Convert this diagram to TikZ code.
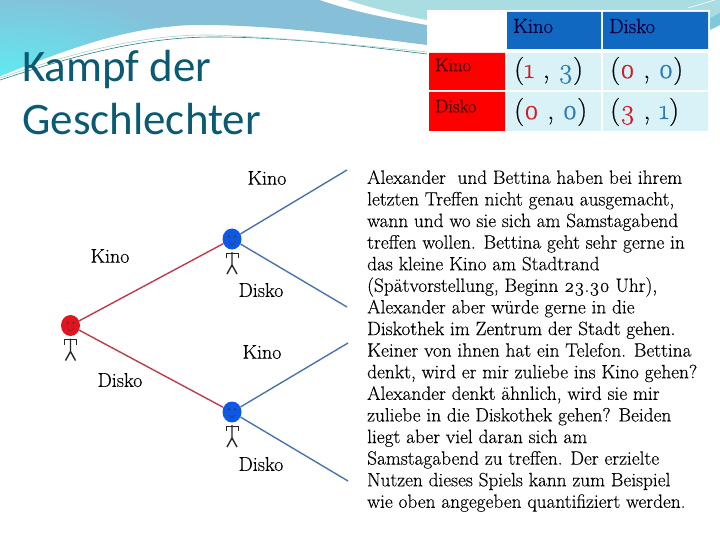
\documentclass[tikz,border=0pt]{standalone}
\usepackage{fontspec}
\setmainfont{Liberation Serif}
\newfontfamily\bodyf[Numbers=OldStyle,FakeBold=0.25]{Latin Modern Roman}
\newfontfamily\headf[Numbers=OldStyle,FakeBold=0.6]{Latin Modern Roman}
\newfontfamily\titlef{Carlito}
\usetikzlibrary{calc,shapes.geometric}
\definecolor{titleblue}{HTML}{0B5A73}
\definecolor{headblue}{HTML}{1168C0}
\definecolor{cellblue}{HTML}{D8F2F7}
\definecolor{payred}{HTML}{D01C24}
\definecolor{payblue}{HTML}{2A78B4}
\definecolor{edgered}{HTML}{B8404C}
\definecolor{edgeblue}{HTML}{4A74AC}
\definecolor{waveL}{HTML}{5CEEF4}
\definecolor{waveR}{HTML}{86BFD8}
\definecolor{waveT}{HTML}{AADDE2}
\definecolor{waveW}{HTML}{80C8DC}
\definecolor{faceR}{HTML}{E2141E}
\definecolor{faceB}{HTML}{0C58E8}
\tikzset{
  x=1pt,y=-1pt,
  treelabel/.style={font=\bodyf\fontsize{20}{20}\selectfont,text=black,inner sep=0pt},
  rowlabel/.style={font=\bodyf\fontsize{18.5}{18.5}\selectfont,text=black!75!red,inner sep=0pt,anchor=west},
  collabel/.style={font=\headf\fontsize{20.5}{20.5}\selectfont,text=black!75!blue,inner sep=0pt,anchor=west},
  payoff/.style={font=\headf\fontsize{28}{28}\selectfont,inner sep=0pt,anchor=west},
  redbranch/.style={draw=edgered,line width=1.4pt},
  bluebranch/.style={draw=edgeblue,line width=1.4pt},
  stick/.style={draw=black!85,line width=1.4pt},
  head/.style={draw=none,ellipse,minimum width=19pt,minimum height=21pt,inner sep=0pt},
}
\newcommand{\stickfig}[2]{% x, y
  \begin{scope}[shift={(#1,#2)}]
    \draw[stick] (0,13) -- (0,26) (-5,35) -- (0,26) -- (5,35);
    \draw[stick,line width=.9pt] (-6,19) -- (-6,14) -- (6,14) -- (6,19);
    \fill[black!75] (-3,-2.5) circle (1.3pt) (3,-2.5) circle (1.3pt);
    \draw[black!75,line width=.7pt] (-3,3) .. controls (-1,6.5) and (1,6.5) .. (3,3);
  \end{scope}}
\begin{document}
\begin{tikzpicture}
\useasboundingbox (0,0) rectangle (720,540);
\fill[white] (0,0) rectangle (720,540);
% waves
\begin{scope}
\clip (0,0) -- (427,0) -- (427,45) .. controls (340,34) and (270,25) .. (200,25)
  .. controls (130,25) and (70,48) .. (0,76) -- cycle;
\fill[waveR] (0,0) rectangle (427,80);
\shade[inner color=waveL,outer color=waveR] (0,85) ellipse [x radius=230,y radius=95];
\end{scope}
\fill[white] (320,0) .. controls (360,14) and (400,20) .. (427,25) -- (427,0) -- cycle;
\fill[waveT] (347,0) .. controls (375,9) and (400,15) .. (427,20) -- (427,0) -- cycle;
\fill[waveT] (427,0) rectangle (720,10);
\fill[waveT] (710,0) rectangle (720,18);
\fill[waveW] (710,18) -- (720,13) -- (720,25) -- (710,30) -- cycle;
\draw[white,line width=.6pt] (688,8) -- (715,0);
\draw[teal!70!gray,line width=.6pt] (0,80) .. controls (70,57) and (140,37) .. (213,37)
  .. controls (290,37) and (370,47) .. (427,54);
\draw[teal!35!white,line width=.6pt] (0,78) .. controls (70,54) and (140,34) .. (213,35)
  .. controls (290,38) and (370,46) .. (427,52);
% title
\node[anchor=base west,inner sep=0pt,text=titleblue,font=\titlef\fontsize{45}{45}\selectfont] (t1) at (22,81.5) {Kampf der};
\node[anchor=base west,inner sep=0pt,text=titleblue,font=\titlef\fontsize{45}{45}\selectfont] (t2) at (22,135) {Geschlechter};
% table
\fill[white] (427,10) rectangle (710,133);
\fill[headblue] (507,12) rectangle (601,49) (603,12) rectangle (708,49);
\fill[red] (429,53) rectangle (505,90) (429,92) rectangle (505,131);
\fill[cellblue] (507,53) rectangle (601,90) (603,53) rectangle (708,90)
  (507,92) rectangle (601,131) (603,92) rectangle (708,131);
\node[collabel] (h1) at (513,26) {Kino};
\node[collabel] (h2) at (609,26) {Disko};
\node[rowlabel] (r1) at (435,65) {Kino};
\node[rowlabel] (r2) at (435,106) {Disko};
\node[payoff] (p11) at (514,71) {(\textcolor{payred}{1} , \textcolor{payblue}{3})};
\node[payoff] (p12) at (610,71) {(\textcolor{payred}{0} , \textcolor{payblue}{0})};
\node[payoff] (p21) at (514,112) {(\textcolor{payred}{0} , \textcolor{payblue}{0})};
\node[payoff] (p22) at (610,112) {(\textcolor{payred}{3} , \textcolor{payblue}{1})};
% tree
\coordinate (k1) at (347,170);
\coordinate (k2) at (347,307);
\coordinate (k3) at (348,343);
\coordinate (k4) at (348,481);
\node[head,fill=faceR] (A) at (70.5,325.5) {};
\node[head,fill=faceB] (B) at (232,239) {};
\node[head,fill=faceB] (C) at (232,412) {};
\stickfig{70.5}{325.5}
\stickfig{232}{239}
\stickfig{232}{412}
\draw[redbranch] (A) -- (B);
\draw[redbranch] (A) -- (C);
\draw[bluebranch] (B) -- (k1);
\draw[bluebranch] (B) -- (k2);
\draw[bluebranch] (C) -- (k3);
\draw[bluebranch] (C) -- (k4);
\node[treelabel] (l1) at (267,178) {Kino};
\node[treelabel] (l2) at (110,256) {Kino};
\node[treelabel] (l3) at (261,290) {Disko};
\node[treelabel] (l4) at (262,352) {Kino};
\node[treelabel] (l5) at (120,380) {Disko};
\node[treelabel] (l6) at (261,464) {Disko};
% text
\node[anchor=north west,inner sep=0pt,align=left,font=\bodyf\fontsize{19.3}{21.6}\selectfont] (body) at (367,170) {%
Alexander\ \ und Bettina haben bei ihrem\\
letzten Treffen nicht genau ausgemacht,\\
wann und wo sie sich am Samstagabend\\
treffen wollen. Bettina geht sehr gerne in\\
das kleine Kino am Stadtrand\\
(Spätvorstellung, Beginn 23.30 Uhr),\\
Alexander aber würde gerne in die\\
Diskothek im Zentrum der Stadt gehen.\\
Keiner von ihnen hat ein Telefon. Bettina\\
denkt, wird er mir zuliebe ins Kino gehen?\\
Alexander denkt ähnlich, wird sie mir\\
zuliebe in die Diskothek gehen? Beiden\\
liegt aber viel daran sich am\\
Samstagabend zu treffen. Der erzielte\\
Nutzen dieses Spiels kann zum Beispiel\\
wie oben angegeben quantifiziert werden.};
\end{tikzpicture}
\end{document}
